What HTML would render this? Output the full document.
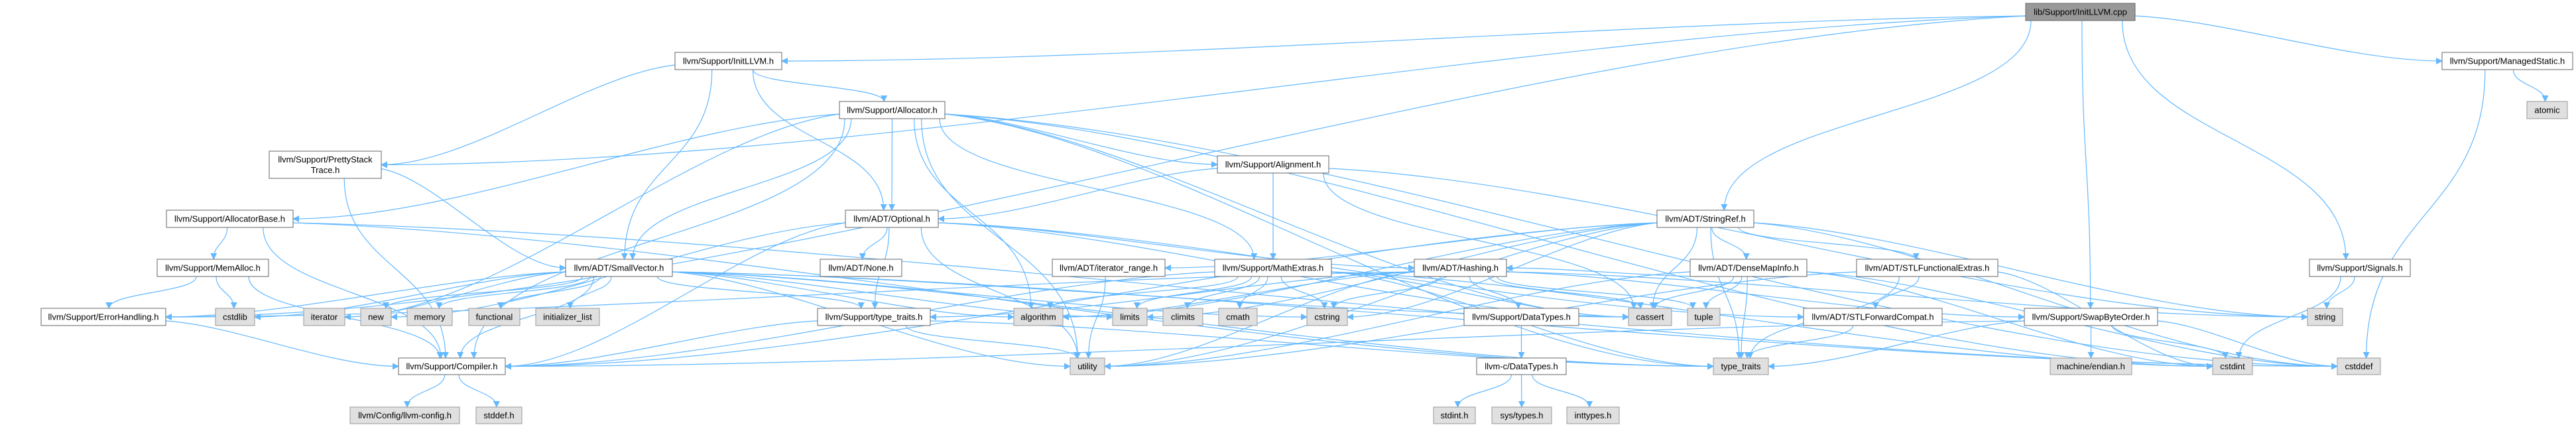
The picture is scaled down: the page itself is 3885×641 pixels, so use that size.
<!DOCTYPE html>
<html><head><meta charset="utf-8">
<style>
html,body{margin:0;padding:0;background:#fff;}
svg{display:block;}
text{font-family:"Liberation Sans",sans-serif;font-size:13px;fill:#000;}
</style></head>
<body>
<svg id="g" width="3885" height="641" viewBox="0 0 3885 641" xmlns="http://www.w3.org/2000/svg">
<defs>
<marker id="a" viewBox="0 0 10 10" refX="9" refY="5" markerWidth="10" markerHeight="10" markerUnits="userSpaceOnUse" orient="auto">
<path d="M0,0 L10,5 L0,10 z" fill="#63b8ff"/>
</marker>
</defs>
<g id="edges" fill="none" stroke="#63b8ff" stroke-width="1.2"></g>
<g id="nodes"></g>
</svg>
<script>
var N={
cpp:["lib/Support/InitLLVM.cpp",3055,5,3220,31,2],
init:["llvm/Support/InitLLVM.h",1018,79,1179,105,0],
ms:["llvm/Support/ManagedStatic.h",3683,79,3880,105,0],
alloc:["llvm/Support/Allocator.h",1266,153,1425,179,0],
atomic:["atomic",3811,153,3872,179,1],
pst:["llvm/Support/PrettyStack|Trace.h",406,228,575,269,0],
align:["llvm/Support/Alignment.h",1836,235,2004,261,0],
abase:["llvm/Support/AllocatorBase.h",251,317,442,343,0],
opt:["llvm/ADT/Optional.h",1275,317,1415,343,0],
sref:["llvm/ADT/StringRef.h",2499,317,2645,343,0],
mem:["llvm/Support/MemAlloc.h",237,391,405,417,0],
sv:["llvm/ADT/SmallVector.h",853,391,1014,417,0],
none:["llvm/ADT/None.h",1237,391,1360,417,0],
ir:["llvm/ADT/iterator_range.h",1587,391,1757,417,0],
math:["llvm/Support/MathExtras.h",1832,391,2008,417,0],
hash:["llvm/ADT/Hashing.h",2133,391,2272,417,0],
dmi:["llvm/ADT/DenseMapInfo.h",2549,391,2725,417,0],
stlfe:["llvm/ADT/STLFunctionalExtras.h",2800,391,3013,417,0],
sig:["llvm/Support/Signals.h",3483,391,3635,417,0],
eh:["llvm/Support/ErrorHandling.h",62,465,250,491,0],
cstdlib:["cstdlib",325,465,384,491,1],
iter:["iterator",458,465,520,491,1],
"new":["new",544,465,590,491,1],
memory:["memory",614,465,682,491,1],
func:["functional",707,465,784,491,1],
il:["initializer_list",808,465,904,491,1],
tt:["llvm/Support/type_traits.h",1233,465,1403,491,0],
algo:["algorithm",1529,465,1603,491,1],
limits:["limits",1678,465,1730,491,1],
climits:["climits",1754,465,1814,491,1],
cmath:["cmath",1838,465,1896,491,1],
cstring:["cstring",1971,465,2032,491,1],
dt:["llvm/Support/DataTypes.h",2208,465,2381,491,0],
cassert:["cassert",2456,465,2521,491,1],
tuple:["tuple",2545,465,2594,491,1],
stlfc:["llvm/ADT/STLForwardCompat.h",2720,465,2929,491,0],
sbo:["llvm/Support/SwapByteOrder.h",3053,465,3254,491,0],
string:["string",3480,465,3533,491,1],
comp:["llvm/Support/Compiler.h",601,540,762,565,0],
util:["utility",1614,540,1666,565,1],
cdt:["llvm-c/DataTypes.h",2227,540,2362,565,0],
stt:["type_traits",2584,540,2667,565,1],
endian:["machine/endian.h",3092,540,3215,565,1],
cstdint:["cstdint",3337,540,3397,565,1],
cstddef:["cstddef",3525,540,3590,565,1],
cfg:["llvm/Config/llvm-config.h",528,614,693,639,1],
stddefh:["stddef.h",718,614,787,639,1],
stdint:["stdint.h",2162,614,2225,639,1],
systypes:["sys/types.h",2250,614,2340,639,1],
inttypes:["inttypes.h",2363,614,2442,639,1]
};
var E={
cpp:["init","pst","eh","sref","sbo","ms","sig"],
init:["alloc","opt","sv","pst"],
alloc:["abase","opt","sv","align","math","comp","algo","cassert","cstddef","cstdint","iter","util","stt"],
pst:["comp","sv"],
abase:["comp","mem","cstddef","stt"],
mem:["comp","eh","cstdlib"],
eh:["comp"],
comp:["cfg","stddefh"],
align:["math","opt","cassert","string"],
opt:["none","stlfc","comp","tt","cassert","new","util","hash"],
sv:["comp","tt","eh","algo","cassert","cstddef","cstdlib","cstring","func","il","iter","limits","memory","new","stt","util"],
math:["comp","algo","cassert","climits","cmath","cstdint","cstring","limits","stt"],
tt:["comp","stt","util"],
ir:["util"],
hash:["dt","eh","sbo","tt","algo","cassert","cstring","string","tuple","util"],
dt:["cdt"],
cdt:["stdint","systypes","inttypes"],
sref:["dmi","stlfe","ir","comp","algo","cassert","cstddef","cstring","limits","string","stt","util"],
dmi:["hash","cassert","cstddef","cstdint","tuple","stt","util"],
stlfe:["stlfc","cstdint","stt","util"],
stlfc:["stt"],
sbo:["comp","cstddef","cstdint","stt","endian"],
sig:["cstdint","string"],
ms:["atomic","cstddef"]
};
var NS="http://www.w3.org/2000/svg";
var eg=document.getElementById("edges"),ng=document.getElementById("nodes");
function cl(v,a,b){return Math.max(a,Math.min(b,v));}
for(var s in E){E[s].forEach(function(t){
 var A=N[s],B=N[t];
 var acx=(A[1]+A[3])/2,bcx=(B[1]+B[3])/2;
 var dx=bcx-acx,dy=B[2]-A[4];
 var d;
 if(Math.abs(dx)>2.5*Math.abs(B[2]-A[2])&&Math.abs(dx)>400){
   var sx=dx<0?A[1]:A[3],sy=(A[2]+A[4])/2+ (dy>0?6:0);
   var tx=dx<0?B[3]:B[1],ty=(B[2]+B[4])/2;
   if(dy<=0){ sx=cl(bcx,A[1]+10,A[3]-10); sy=A[4]; }
   var mx=(sx+tx)/2;
   d="M"+sx+","+sy+" C"+(sx+(tx-sx)*0.3)+","+(sy+(ty-sy)*0.1)+" "+(tx-(tx-sx)*0.3)+","+ty+" "+tx+","+ty;
 } else {
   var sx=cl(acx+dx*0.15,A[1]+8,A[3]-8),sy=A[4];
   var tx=cl(bcx-dx*0.05,B[1]+8,B[3]-8),ty=B[2];
   var h=(ty-sy)/2;
   d="M"+sx+","+sy+" C"+sx+","+(sy+h)+" "+tx+","+(ty-h)+" "+tx+","+ty;
 }
 var p=document.createElementNS(NS,"path");
 p.setAttribute("d",d);p.setAttribute("marker-end","url(#a)");
 eg.appendChild(p);
});}
for(var k in N){
 var n=N[k];
 var r=document.createElementNS(NS,"rect");
 r.setAttribute("x",n[1]);r.setAttribute("y",n[2]);
 r.setAttribute("width",n[3]-n[1]);r.setAttribute("height",n[4]-n[2]);
 r.setAttribute("fill",n[5]==2?"#999999":(n[5]==1?"#e0e0e0":"#ffffff"));
 r.setAttribute("stroke",n[5]==1?"#999999":"#666666");
 r.setAttribute("stroke-width","1");
 ng.appendChild(r);
 var lines=n[0].split("|");
 var cx=(n[1]+n[3])/2,cy=(n[2]+n[4])/2;
 lines.forEach(function(L,i){
  var t=document.createElementNS(NS,"text");
  t.setAttribute("x",cx);t.setAttribute("text-anchor","middle");
  t.setAttribute("y",cy+4.5+(i-(lines.length-1)/2)*16);
  t.textContent=L;ng.appendChild(t);
 });
}
</script>
</body></html>
